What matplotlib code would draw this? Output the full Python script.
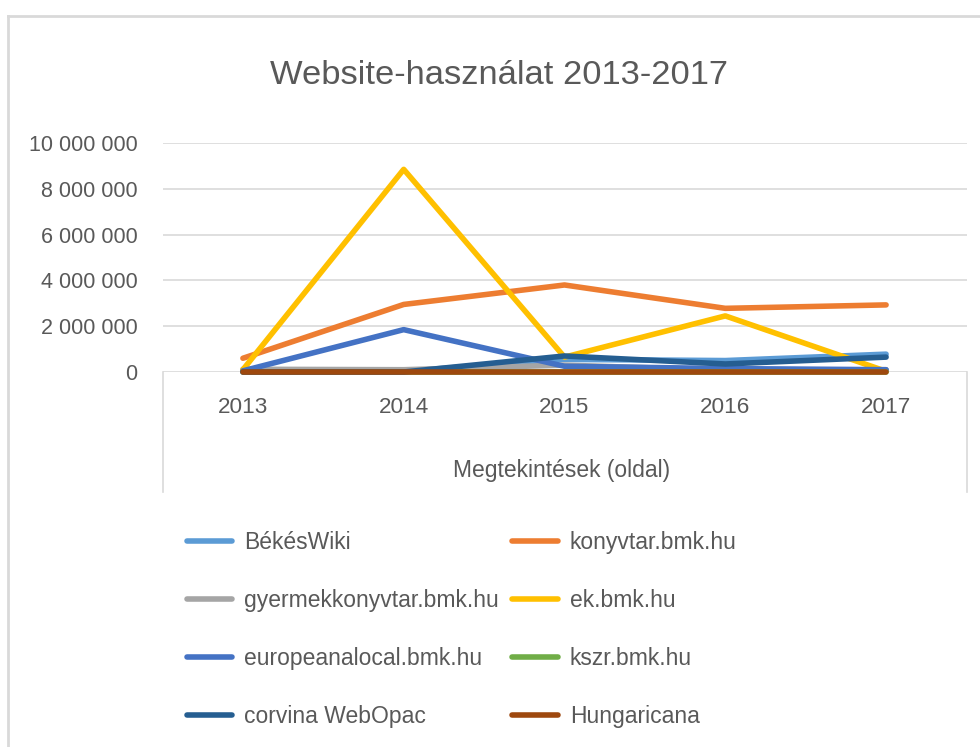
import matplotlib
matplotlib.use("Agg")
import matplotlib.pyplot as plt
from matplotlib.lines import Line2D
from matplotlib.ticker import FuncFormatter, MultipleLocator

plt.rcParams['font.family'] = ['Liberation Sans', 'DejaVu Sans']

years = ['2013', '2014', '2015', '2016', '2017']
series_names = ['BékésWiki', 'konyvtar.bmk.hu', 'gyermekkonyvtar.bmk.hu', 'ek.bmk.hu',
                'europeanalocal.bmk.hu', 'kszr.bmk.hu', 'corvina WebOpac', 'Hungaricana']
bekeswiki = [20000, 30000, 550000, 500000, 780000]
konyvtar = [600000, 2950000, 3800000, 2780000, 2930000]
gyermek = [120000, 100000, 300000, 80000, 100000]
ek = [100000, 8850000, 650000, 2450000, 30000]
europeana = [50000, 1850000, 250000, 150000, 100000]
kszr = [10000, 10000, 10000, 10000, 10000]
corvina = [0, 0, 700000, 350000, 650000]
hungaricana = [15000, 15000, 15000, 15000, 15000]
values = [bekeswiki, konyvtar, gyermek, ek, europeana, kszr, corvina, hungaricana]
colors = ['#5B9BD5', '#ED7D31', '#A5A5A5', '#FFC000', '#4472C4', '#70AD47', '#255E91', '#9E480E']

TXT = '#595959'
GRID = '#D9D9D9'
FS = 16.5

fig = plt.figure(figsize=(9.8, 7.47), dpi=100)
ax = fig.add_axes([162.5 / 980, 1 - 372 / 747, (966.5 - 162.5) / 980, (372 - 143) / 747])

x = list(range(len(years)))
handles = []
for name, vals, c in zip(series_names, values, colors):
    h, = ax.plot(x, vals, color=c, lw=4.0, solid_capstyle='round', solid_joinstyle='round',
                 label=name, clip_on=False)
    handles.append(h)

ax.set_xlim(-0.5, len(years) - 0.5)
ax.set_ylim(0, 10000000)
ax.yaxis.set_major_locator(MultipleLocator(2000000))
ax.yaxis.set_major_formatter(FuncFormatter(lambda v, p: f"{int(v):,}".replace(",", " ")))
ax.grid(axis='y', color=GRID, lw=1.2)
ax.set_axisbelow(True)
for s in ax.spines.values():
    s.set_visible(False)
ax.tick_params(axis='y', length=0, pad=18, labelsize=15.5, labelcolor=TXT)
ax.set_xticks(x)
ax.set_xticklabels(years)
ax.tick_params(axis='x', length=0, pad=18, labelsize=16.2, labelcolor=TXT)

# category group lines
trans = ax.get_xaxis_transform()
for xv in (-0.5, len(years) - 0.5):
    ax.add_line(Line2D([xv, xv], [0, -120 / 229], transform=trans, color=GRID, lw=1.2, clip_on=False))

fig.text(562 / 980, 1 - 470 / 747, 'Megtekintések (oldal)', ha='center', va='center',
         fontsize=FS, color=TXT)

fig.text(499 / 980, 1 - 75 / 747, 'Website-használat 2013-2017', ha='center', va='center',
         fontsize=24.8, color=TXT)

# chart border
fig.add_artist(Line2D([8 / 980, 8 / 980], [0, 1 - 16 / 747], transform=fig.transFigure, color=GRID, lw=2))
fig.add_artist(Line2D([8 / 980, 1], [1 - 16 / 747, 1 - 16 / 747], transform=fig.transFigure, color=GRID, lw=2))

order = [0, 2, 4, 6, 1, 3, 5, 7]
leg = fig.legend([handles[i] for i in order], [series_names[i] for i in order], ncol=2,
                 loc='upper left', bbox_to_anchor=(166 / 980, 1 - 510 / 747), frameon=False,
                 fontsize=FS, labelcolor=TXT, handlelength=2.0, handletextpad=0.5,
                 columnspacing=0.6, labelspacing=1.53)
for lh in leg.get_lines():
    lh.set_linewidth(4.0)
    lh.set_solid_capstyle('round')

fig.savefig('out.png', dpi=100)
